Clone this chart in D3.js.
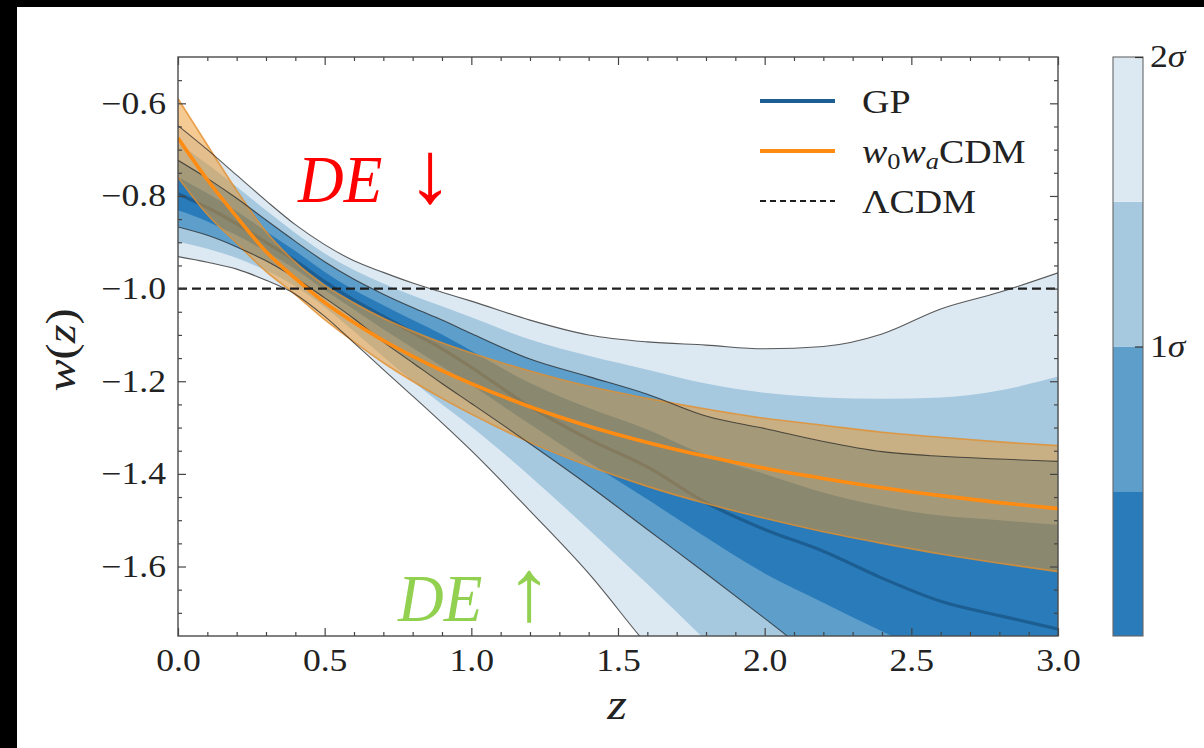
<!DOCTYPE html>
<html><head><meta charset="utf-8">
<script src="https://cdn.jsdelivr.net/npm/d3@7"></script>
<style>body{margin:0;background:#000;} svg{display:block}</style>
</head><body>
<svg id="c" width="1204" height="748"></svg>
<script>
// ---------- data ----------
const zGrid  = [0, 0.1, 0.2, 0.3, 0.4, 0.5, 0.6, 0.7, 0.8, 0.9, 1.0, 1.2, 1.4, 1.6, 1.8, 2.0, 2.2, 2.4, 2.6, 2.8, 3.0];
// GP reconstruction: mean and sigma contours
const gpMean = [-0.795,-0.825,-0.86,-0.90,-0.94,-0.985,-1.025,-1.06,-1.095,-1.13,-1.17,-1.255,-1.325,-1.385,-1.462,-1.52,-1.567,-1.625,-1.675,-1.706,-1.735];
const gp2Up  = [-0.648,-0.70,-0.755,-0.81,-0.862,-0.905,-0.94,-0.965,-0.988,-1.008,-1.027,-1.068,-1.10,-1.115,-1.122,-1.13,-1.125,-1.098,-1.044,-1.008,-0.966];
const gp15Up = [-0.686,-0.731,-0.78,-0.831,-0.88,-0.924,-0.96,-0.989,-1.015,-1.038,-1.062,-1.11,-1.145,-1.175,-1.205,-1.225,-1.235,-1.238,-1.235,-1.22,-1.19];
const gp1Up  = [-0.723,-0.762,-0.805,-0.852,-0.898,-0.942,-0.98,-1.012,-1.041,-1.068,-1.097,-1.152,-1.19,-1.228,-1.275,-1.302,-1.33,-1.352,-1.362,-1.368,-1.373];
const gp05Up = [-0.759,-0.794,-0.833,-0.876,-0.919,-0.964,-1.003,-1.036,-1.068,-1.099,-1.134,-1.204,-1.258,-1.304,-1.36,-1.40,-1.44,-1.47,-1.49,-1.50,-1.51];
const gp05Lo = [-0.831,-0.855,-0.885,-0.92,-0.958,-1.003,-1.045,-1.088,-1.128,-1.168,-1.208,-1.293,-1.375,-1.455,-1.537,-1.615,-1.678,-1.74,-1.80,-1.85,-1.90];
const gp1Lo  = [-0.867,-0.885,-0.91,-0.94,-0.977,-1.02,-1.065,-1.115,-1.16,-1.205,-1.248,-1.335,-1.425,-1.52,-1.615,-1.712,-1.81,-1.90,-1.99,-2.07,-2.15];
const gp15Lo = [-0.899,-0.914,-0.934,-0.961,-0.995,-1.04,-1.092,-1.147,-1.20,-1.25,-1.298,-1.405,-1.52,-1.638,-1.76,-1.88,-2.0,-2.11,-2.23,-2.34,-2.45];
const gp2Lo  = [-0.931,-0.943,-0.958,-0.982,-1.012,-1.06,-1.117,-1.175,-1.232,-1.29,-1.35,-1.48,-1.615,-1.77,-1.91,-2.05,-2.19,-2.33,-2.47,-2.61,-2.75];
// w0waCDM: mean and 2-sigma band
const woMean = [-0.675,-0.765,-0.845,-0.92,-0.978,-1.03,-1.073,-1.112,-1.146,-1.177,-1.205,-1.255,-1.297,-1.332,-1.362,-1.388,-1.41,-1.43,-1.447,-1.462,-1.475];
const wo2Up  = [-0.59,-0.69,-0.788,-0.877,-0.943,-0.993,-1.031,-1.064,-1.092,-1.117,-1.139,-1.178,-1.211,-1.237,-1.26,-1.28,-1.295,-1.31,-1.321,-1.331,-1.339];
const wo2Lo  = [-0.76,-0.84,-0.902,-0.963,-1.013,-1.067,-1.115,-1.16,-1.20,-1.237,-1.271,-1.332,-1.383,-1.427,-1.464,-1.496,-1.525,-1.55,-1.573,-1.593,-1.611];
const lcdmW  = -1.0;
// ticks
const xTicks = [0, 0.5, 1.0, 1.5, 2.0, 2.5, 3.0];
const yTicks = [-0.6, -0.8, -1.0, -1.2, -1.4, -1.6];
const cbLevels = [0, 0.5, 1, 1.5, 2];
const cbTicks = [1, 2];
const legendNames = ["GP", "w0waCDM", "ΛCDM"];

// ---------- styles ----------
const C = {c05:"#2a7bb9", c1:"#5d9ecb", c15:"#a6c9e0", c2:"#dde9f2",
           gpLine:"#1c5e92", woLine:"#ff8c12", woFill:"rgb(235,150,40)", woEdge:"#e48f2c"};
const cbColors = [C.c05, C.c1, C.c15, C.c2];
const FONT = "'Liberation Serif','Times New Roman',serif";
const SX = 1.15; // horizontal stretch of text like the reference

const W=1204,H=748;
const svg=d3.select('#c');
svg.append('rect').attr('x',17).attr('y',7).attr('width',W-17).attr('height',H-7).attr('fill','#fff');

const m={l:178,t:57,r:1058,b:636};
const x=d3.scaleLinear().domain([0,3]).range([m.l,m.r]);
const y=d3.scaleLinear().domain([-1.75,-0.5]).range([m.b,m.t]);

svg.append('clipPath').attr('id','pc').append('rect')
  .attr('x',m.l).attr('y',m.t).attr('width',m.r-m.l).attr('height',m.b-m.t);
const g=svg.append('g').attr('clip-path','url(#pc)');

const area=(up,lo)=>d3.area().x((d,i)=>x(zGrid[i])).y0((d,i)=>y(lo[i])).y1((d,i)=>y(up[i])).curve(d3.curveMonotoneX)(zGrid);
const line=(arr)=>d3.line().x((d,i)=>x(zGrid[i])).y((d,i)=>y(arr[i])).curve(d3.curveMonotoneX)(zGrid);

g.append('path').attr('d',area(gp2Up,gp2Lo)).attr('fill',C.c2);
g.append('path').attr('d',area(gp15Up,gp15Lo)).attr('fill',C.c15);
g.append('path').attr('d',area(gp1Up,gp1Lo)).attr('fill',C.c1);
g.append('path').attr('d',area(gp05Up,gp05Lo)).attr('fill',C.c05);
g.append('path').attr('d',line(gpMean)).attr('fill','none').attr('stroke',C.gpLine).attr('stroke-width',3.2);

g.append('path').attr('d',area(wo2Up,wo2Lo)).attr('fill',C.woFill).attr('fill-opacity',0.5);
[wo2Up,wo2Lo].forEach(a=>g.append('path').attr('d',line(a)).attr('fill','none')
  .attr('stroke',C.woEdge).attr('stroke-width',1.6).attr('stroke-opacity',0.8));

[gp2Up,gp2Lo,gp1Up,gp1Lo].forEach(a=>g.append('path').attr('d',line(a)).attr('fill','none')
  .attr('stroke','#262626').attr('stroke-width',1.1).attr('stroke-opacity',0.75));

g.append('path').attr('d',line(woMean)).attr('fill','none').attr('stroke',C.woLine).attr('stroke-width',3.6);

g.append('line').attr('x1',m.l).attr('x2',m.r).attr('y1',y(lcdmW)).attr('y2',y(lcdmW))
  .attr('stroke','#1e1e1e').attr('stroke-width',2.3).attr('stroke-dasharray','9,5');

// ---------- axes ----------
const tickCol='#444';
const xMinor=d3.range(0,3.0001,0.1).filter(v=>Math.abs(v*2-Math.round(v*2))>1e-6);
const yMinor=d3.range(-1.75,-0.4999,0.05).filter(v=>Math.abs(v*5-Math.round(v*5))>1e-6 && v>-1.7499 && v<-0.5001);
const yMajorAll=yTicks;

function styleAxis(sel){sel.select('.domain').remove();sel.selectAll('line').attr('stroke',tickCol).attr('stroke-width',1.2);}

const axB=svg.append('g').attr('transform',`translate(0,${m.b})`)
  .call(d3.axisBottom(x).tickValues(xTicks).tickSize(-8).tickPadding(13).tickFormat(d3.format('.1f')));
styleAxis(axB);
svg.append('g').attr('transform',`translate(0,${m.b})`).call(d3.axisBottom(x).tickValues(xMinor).tickSize(-4).tickFormat('')).call(styleAxis);
svg.append('g').attr('transform',`translate(0,${m.t})`).call(d3.axisTop(x).tickValues(xTicks).tickSize(-8).tickFormat('')).call(styleAxis);
svg.append('g').attr('transform',`translate(0,${m.t})`).call(d3.axisTop(x).tickValues(xMinor).tickSize(-4).tickFormat('')).call(styleAxis);

const axL=svg.append('g').attr('transform',`translate(${m.l},0)`)
  .call(d3.axisLeft(y).tickValues(yMajorAll).tickSize(-8).tickPadding(12).tickFormat(d3.format('.1f')));
styleAxis(axL);
svg.append('g').attr('transform',`translate(${m.l},0)`).call(d3.axisLeft(y).tickValues(yMinor).tickSize(-4).tickFormat('')).call(styleAxis);
svg.append('g').attr('transform',`translate(${m.r},0)`).call(d3.axisRight(y).tickValues(yMajorAll).tickSize(-8).tickFormat('')).call(styleAxis);
svg.append('g').attr('transform',`translate(${m.r},0)`).call(d3.axisRight(y).tickValues(yMinor).tickSize(-4).tickFormat('')).call(styleAxis);

axB.selectAll('text').attr('font-family',FONT).attr('font-size',31).attr('fill','#222')
  .attr('transform',`scale(${SX},1)`);
axL.selectAll('text').attr('font-family',FONT).attr('font-size',31).attr('fill','#222')
  .attr('x',-12/SX).attr('transform',`scale(${SX},1)`);

svg.append('rect').attr('x',m.l).attr('y',m.t).attr('width',m.r-m.l).attr('height',m.b-m.t)
  .attr('fill','none').attr('stroke','#4a4a4a').attr('stroke-width',1.4);

// axis labels
const yl=svg.append('text').attr('transform',`translate(75,350) rotate(-90) scale(${SX},1)`)
  .attr('text-anchor','middle').attr('font-family',FONT).attr('font-size',42).attr('fill','#222');
yl.append('tspan').attr('font-style','italic').text('w');
yl.append('tspan').text('(');
yl.append('tspan').attr('font-style','italic').text('z');
yl.append('tspan').text(')');
svg.append('text').attr('transform',`translate(617,719) scale(${SX},1)`).attr('text-anchor','middle')
  .attr('font-family',FONT).attr('font-size',44).attr('font-style','italic').attr('fill','#222').text('z');

// ---------- legend ----------
const lg=[{y:101,c:C.gpLine,w:4,dash:null},{y:151,c:C.woLine,w:4,dash:null},{y:201,c:'#1e1e1e',w:2,dash:'6,4'}];
lg.forEach((d,i)=>{
  const l=svg.append('line').attr('x1',760).attr('x2',835).attr('y1',d.y).attr('y2',d.y)
    .attr('stroke',d.c).attr('stroke-width',d.w);
  if(d.dash) l.attr('stroke-dasharray',d.dash);
  const t=svg.append('text').attr('transform',`translate(862,${d.y+12}) scale(${SX},1)`)
    .attr('font-family',FONT).attr('font-size',33).attr('fill','#222');
  if(i===1){
    t.append('tspan').attr('font-style','italic').text('w');
    t.append('tspan').attr('font-size',23).attr('dy',6).text('0');
    t.append('tspan').attr('font-style','italic').attr('dy',-6).text('w');
    t.append('tspan').attr('font-style','italic').attr('font-size',23).attr('dy',6).text('a');
    t.append('tspan').attr('dy',-6).text('CDM');
  } else t.text(legendNames[i]);
});

// ---------- colorbar ----------
const cbx=1113, cbw=30;
const cb=d3.scaleLinear().domain([0,2]).range([m.b,m.t]);
cbColors.forEach((c,i)=>{
  svg.append('rect').attr('x',cbx).attr('width',cbw)
    .attr('y',cb(cbLevels[i+1])).attr('height',cb(cbLevels[i])-cb(cbLevels[i+1])).attr('fill',c);
});
svg.append('rect').attr('x',cbx).attr('y',m.t).attr('width',cbw).attr('height',m.b-m.t)
  .attr('fill','none').attr('stroke','#666').attr('stroke-width',1.1);
const cbAx=svg.append('g').attr('transform',`translate(${cbx+cbw},0)`)
  .call(d3.axisRight(cb).tickValues(cbTicks).tickSize(-8).tickPadding(7).tickFormat(''));
cbAx.select('.domain').remove();
cbAx.selectAll('line').attr('stroke','#333').attr('stroke-width',1.2);
cbAx.selectAll('.tick').each(function(d){
  const t=d3.select(this).select('text').attr('font-family',FONT).attr('font-size',31).attr('fill','#222')
    .attr('x',7/SX).attr('transform',`scale(${SX},1)`);
  t.append('tspan').text(d);
  t.append('tspan').attr('font-style','italic').text('σ');
});

// ---------- annotations ----------
function annot(xp,yp,color){
  svg.append('text').attr('transform',`translate(${xp},${yp}) scale(0.93,1)`)
    .attr('font-family',FONT).attr('font-style','italic').attr('font-size',68).attr('fill',color).text('DE');
}
function arrow(xp,yp,color,ch){
  svg.append('text').attr('transform',`translate(${xp},${yp}) scale(1.1,1.05)`).attr('text-anchor','middle')
    .attr('font-family',FONT).attr('font-size',84).attr('fill',color).text(ch);
}
annot(298,202,'#ff0000');
arrow(430,202,'#ff0000','↓');
annot(398,621,'#92d050');
arrow(529,620,'#92d050','↑');
</script>
</body></html>
